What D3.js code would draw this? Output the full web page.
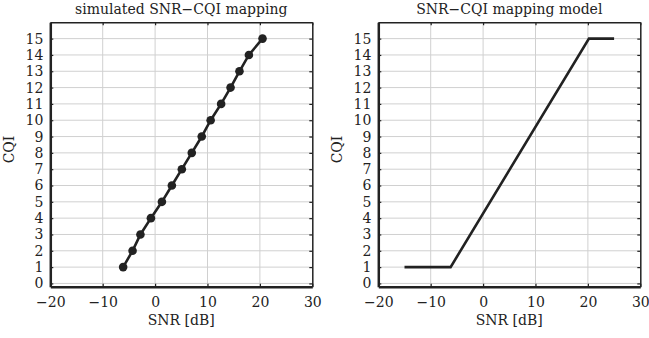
<!DOCTYPE html>
<html>
<head>
<meta charset="utf-8">
<script src="https://cdn.jsdelivr.net/npm/d3@7"></script>
<style>
  html, body { margin: 0; padding: 0; background: #fff; }
  svg { display: block; }
  text { font-family: 'DejaVu Serif', serif; fill: #222; }
</style>
</head>
<body>
<svg id="chart"></svg>
<script>
const w = 649
const h = 338
const font = "'DejaVu Serif', serif"

// left panel: simulated points
const simCqi = [1, 2, 3, 4, 5, 6, 7, 8, 9, 10, 11, 12, 13, 14, 15]
const simSnr = [-6.1, -4.3, -2.8, -0.8, 1.3, 3.2, 5.1, 7.0, 8.9, 10.6, 12.6, 14.4, 16.1, 17.9, 20.5]

// right panel: piecewise model
const modelSnr = [-15, -6.2, 20.2, 25]
const modelCqi = [1, 1, 15, 15]

const xTicks = [-20, -10, 0, 10, 20, 30]
const yTicks = [0, 1, 2, 3, 4, 5, 6, 7, 8, 9, 10, 11, 12, 13, 14, 15]

const plotTop = 22.3
const plotBottom = 286.7
const plotW = 262

const svg = d3.select('#chart').attr('width', w).attr('height', h)

function drawPanel(left, title, snr, cqi, withDots) {
  const x = d3.scaleLinear().domain([-20, 30]).range([left, left + plotW])
  const y = d3.scaleLinear().domain([-0.2, 16]).range([plotBottom, plotTop])
  const g = svg.append('g')

  // grid
  g.selectAll('.gx')
    .data(xTicks.slice(1, -1))
    .enter()
    .append('line')
    .attr('x1', (d) => x(d))
    .attr('x2', (d) => x(d))
    .attr('y1', plotTop)
    .attr('y2', plotBottom)
    .attr('stroke', '#d0d0d0')
    .attr('stroke-width', 1)
  g.selectAll('.gy')
    .data(yTicks)
    .enter()
    .append('line')
    .attr('x1', left)
    .attr('x2', left + plotW)
    .attr('y1', (d) => y(d))
    .attr('y2', (d) => y(d))
    .attr('stroke', '#d0d0d0')
    .attr('stroke-width', 1)

  // axes with inward ticks
  const xaxis = d3.axisBottom(x).tickValues(xTicks).tickSizeInner(-3).tickSizeOuter(0).tickPadding(10)
  const yaxis = d3.axisLeft(y).tickValues(yTicks).tickSizeInner(-3).tickSizeOuter(0).tickPadding(7)
  const xtop = d3.axisTop(x).tickValues(xTicks).tickSizeInner(-3).tickSizeOuter(0).tickFormat('')
  const yright = d3.axisRight(y).tickValues(yTicks).tickSizeInner(-3).tickSizeOuter(0).tickFormat('')

  const ax = g.append('g').attr('transform', `translate(0,${plotBottom})`).call(xaxis)
  const ay = g.append('g').attr('transform', `translate(${left},0)`).call(yaxis)
  const at = g.append('g').attr('transform', `translate(0,${plotTop})`).call(xtop)
  const ar = g.append('g').attr('transform', `translate(${left + plotW},0)`).call(yright)

  ;[ax, ay, at, ar].forEach((a) => {
    a.attr('font-family', null).attr('font-size', null)
    a.selectAll('.tick line').attr('stroke', '#222').attr('stroke-width', 1.2)
    a.selectAll('text').style('font-family', font).style('font-size', '14px').attr('fill', '#222')
  })
  ax.select('.domain').attr('stroke', '#222').attr('stroke-width', 2.5)
  ay.select('.domain').attr('stroke', '#222').attr('stroke-width', 2.5)
  at.select('.domain').attr('stroke', '#222').attr('stroke-width', 1.5)
  ar.select('.domain').attr('stroke', '#222').attr('stroke-width', 1.5)

  // line
  const pts = snr.map((s, i) => [s, cqi[i]])
  const line = d3.line().x((d) => x(d[0])).y((d) => y(d[1]))
  g.append('path')
    .datum(pts)
    .attr('d', line)
    .attr('fill', 'none')
    .attr('stroke', '#222')
    .attr('stroke-width', 2.6)

  if (withDots) {
    g.selectAll('circle')
      .data(pts)
      .enter()
      .append('circle')
      .attr('cx', (d) => x(d[0]))
      .attr('cy', (d) => y(d[1]))
      .attr('r', 4.3)
      .attr('fill', '#222')
  }

  // labels
  g.append('text')
    .attr('x', left + plotW / 2)
    .attr('y', 14)
    .attr('text-anchor', 'middle')
    .style('font-size', '14px')
    .text(title)
  g.append('text')
    .attr('x', left + plotW / 2)
    .attr('y', 325)
    .attr('text-anchor', 'middle')
    .style('font-size', '14px')
    .text('SNR [dB]')
  g.append('text')
    .attr('transform', `translate(${left - 36},${(plotTop + plotBottom) / 2 - 5}) rotate(-90)`)
    .attr('text-anchor', 'middle')
    .style('font-size', '14px')
    .text('CQI')
}

drawPanel(50.3, 'simulated SNR\u2212CQI mapping', simSnr, simCqi, true)
drawPanel(378.3, 'SNR\u2212CQI mapping model', modelSnr, modelCqi, false)
</script>
</body>
</html>
